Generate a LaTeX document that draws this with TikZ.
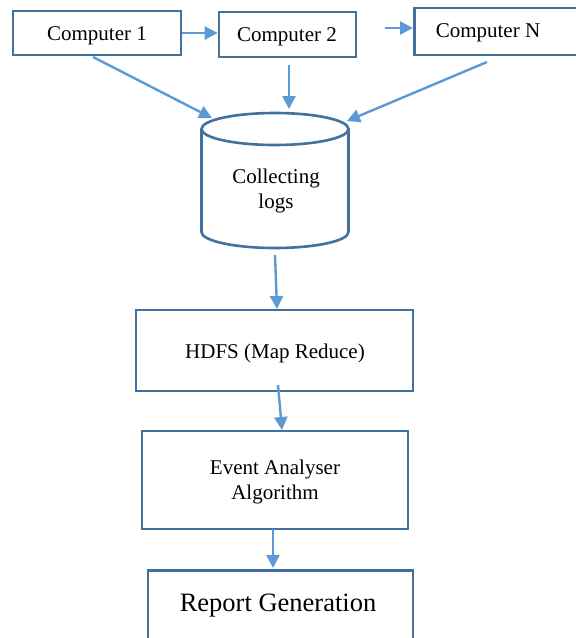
\documentclass[tikz,border=0pt]{standalone}
\usepackage{fontspec}
\setmainfont{Liberation Serif}
\usetikzlibrary{arrows.meta}
\definecolor{boxblue}{HTML}{41719C}
\definecolor{arrblue}{HTML}{5B9BD5}
\begin{document}
\begin{tikzpicture}[x=1pt,y=-1pt,
  box/.style={draw=boxblue, line width=2.6pt, fill=white, inner sep=0pt, align=center},
  lbl/.style={inner sep=0pt, align=center, font=\fontsize{21}{25}\selectfont},
  arr/.style={draw=arrblue, line width=2.4pt, -{Triangle[length=13pt,width=13pt]}}]
\clip (0,0) rectangle (576,638);
\fill[white] (0,0) rectangle (576,638);
% top row
\node[box, minimum width=168pt, minimum height=44pt] (c1) at (97,33) {};
\node[lbl] (c1t) at (97,36) {Computer 1};
\node[box, minimum width=137pt, minimum height=45pt] (c2) at (287.5,34.5) {};
\node[lbl] (c2t) at (287,37) {Computer 2};
\node[box, minimum width=170pt, minimum height=47pt, anchor=west] (cn) at (413,31.5) {};
\node[lbl] (cnt) at (488,33) {Computer N};
% cylinder
\coordinate (cyl) at (275,180);
\draw[boxblue, line width=2.6pt, fill=white] (201.5,129) -- (201.5,232) arc[start angle=180, end angle=0, x radius=73.5, y radius=16] -- (348.5,129);
\draw[boxblue, line width=2.6pt, fill=white] (275,129) ellipse[x radius=73.5, y radius=16];
\node[lbl] (logs) at (276,191) {Collecting\\logs};
% lower boxes
\node[box, minimum width=277pt, minimum height=81pt] (hdfs) at (274.5,350.5) {};
\node[lbl] (hdfst) at (275,353) {HDFS (Map Reduce)};
\node[box, minimum width=266pt, minimum height=98pt] (ev) at (275,480) {};
\node[lbl] (evt) at (275,482) {Event Analyser\\Algorithm};
\node[box, minimum width=265pt, minimum height=90pt, anchor=north] (rep) at (280.5,569) {};
\node[lbl, font=\fontsize{26.5}{30}\selectfont] (rept) at (278,606) {Report Generation};
% arrows
\coordinate (f1) at (385,28);
\coordinate (a1s) at (93,57);   \coordinate (a1e) at (212,118);
\coordinate (a2s) at (289,65);  \coordinate (a2e) at (289,109);
\coordinate (a3s) at (487,62);  \coordinate (a3e) at (347,121);
\coordinate (a4s) at (275,255); \coordinate (a4e) at (277,309);
\coordinate (a5s) at (278,385); \coordinate (a5e) at (282,430);
\coordinate (a6s) at (273,529); \coordinate (a6e) at (273,568);
\draw[arr] (c1.east) -- (c2.west |- c1.east);
\draw[arr] (f1) -- (cn.west |- f1);
\draw[arr] (a1s) -- (a1e);
\draw[arr] (a2s) -- (a2e);
\draw[arr] (a3s) -- (a3e);
\draw[arr] (a4s) -- (a4e);
\draw[arr] (a5s) -- (a5e);
\draw[arr] (a6s) -- (a6e);
\end{tikzpicture}
\end{document}
